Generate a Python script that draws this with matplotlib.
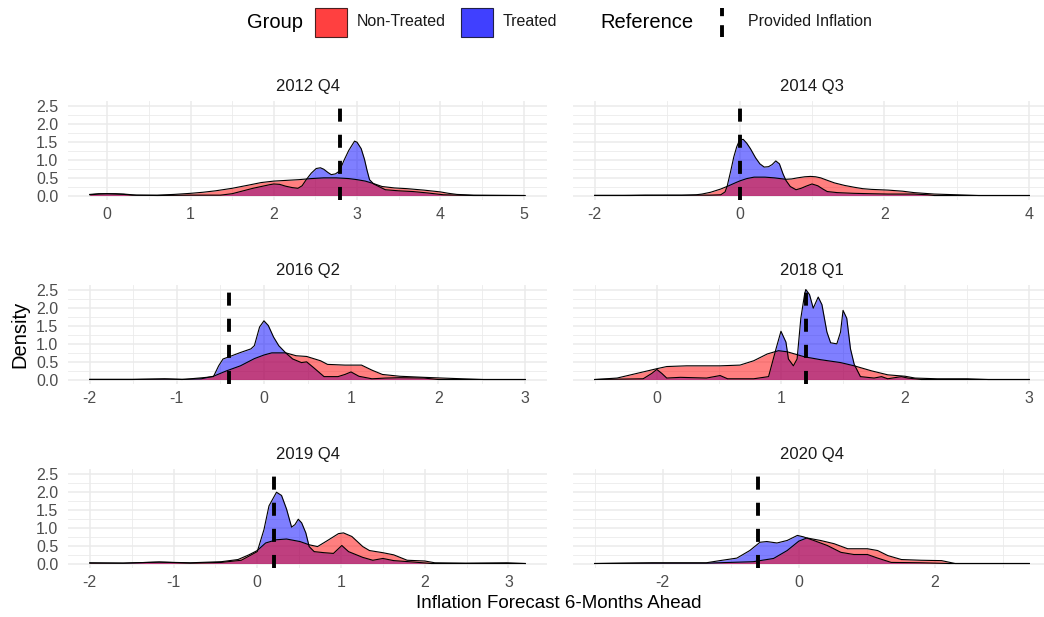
import matplotlib
matplotlib.use("Agg")
import matplotlib.pyplot as plt
from matplotlib.patches import Rectangle
from matplotlib.lines import Line2D
from matplotlib.ticker import MultipleLocator, FuncFormatter

plt.rcParams['font.family'] = ['Liberation Sans', 'DejaVu Sans']
plt.rcParams['axes.unicode_minus'] = False
plt.rcParams['lines.scale_dashes'] = False

quarters = ["2012 Q4", "2014 Q3", "2016 Q2", "2018 Q1", "2019 Q4", "2020 Q4"]
provided_inflation = [2.8, 0.0, -0.4, 1.2, 0.2, -0.6]

# density curves (forecast value, density) for each quarter
nt_2012q4_x = [-0.21, -0.1, 0.0, 0.1, 0.2, 0.35, 0.6, 0.8, 1.0, 1.15, 1.3, 1.5, 1.7, 1.85, 2.0, 2.15, 2.3, 2.45,
               2.6, 2.75, 2.9, 3.0, 3.1, 3.2, 3.3, 3.45, 3.6, 3.8, 4.0, 4.1, 4.2, 4.4, 4.7, 5.02]
nt_2012q4_y = [0.03, 0.05, 0.05, 0.05, 0.04, 0.01, 0.01, 0.03, 0.06, 0.09, 0.13, 0.2, 0.29, 0.36, 0.4, 0.42, 0.44,
               0.47, 0.49, 0.49, 0.47, 0.44, 0.4, 0.33, 0.25, 0.21, 0.19, 0.15, 0.1, 0.06, 0.03, 0.01, 0.005, 0.0]
tr_2012q4_x = [-0.21, -0.1, 0.0, 0.1, 0.2, 0.3, 0.6, 1.0, 1.2, 1.36, 1.5, 1.6, 1.75, 1.85, 1.95, 2.0, 2.07, 2.14,
               2.22, 2.29, 2.34, 2.39, 2.45, 2.51, 2.56, 2.6, 2.65, 2.69, 2.74, 2.79, 2.84, 2.9, 2.97, 3.0, 3.05,
               3.09, 3.12, 3.15, 3.2, 3.34, 3.5, 3.67, 3.85, 4.04, 4.2, 4.4, 5.0]
tr_2012q4_y = [0.02, 0.04, 0.05, 0.04, 0.03, 0.01, 0.0, 0.01, 0.01, 0.01, 0.05, 0.11, 0.2, 0.25, 0.3, 0.32, 0.31,
               0.26, 0.22, 0.2, 0.27, 0.44, 0.62, 0.75, 0.77, 0.73, 0.64, 0.58, 0.6, 0.68, 0.96, 1.25, 1.51, 1.48,
               1.3, 1.0, 0.7, 0.44, 0.32, 0.16, 0.13, 0.11, 0.07, 0.02, 0.01, 0.0, 0.0]

nt_2014q3_x = [-2.0, -1.6, -1.3, -1.0, -0.8, -0.6, -0.52, -0.4, -0.26, -0.15, -0.05, 0.01, 0.1, 0.2, 0.35, 0.48,
               0.56, 0.64, 0.72, 0.8, 0.9, 0.98, 1.05, 1.12, 1.2, 1.31, 1.45, 1.58, 1.7, 1.82, 2.05, 2.25, 2.41,
               2.55, 2.69, 3.0, 3.3, 4.0]
nt_2014q3_y = [0.005, 0.005, 0.01, 0.005, 0.005, 0.02, 0.04, 0.09, 0.18, 0.27, 0.36, 0.41, 0.47, 0.51, 0.51, 0.49,
               0.47, 0.45, 0.46, 0.49, 0.52, 0.53, 0.52, 0.49, 0.43, 0.35, 0.28, 0.23, 0.19, 0.17, 0.15, 0.12, 0.08,
               0.06, 0.04, 0.02, 0.0, 0.0]
tr_2014q3_x = [-2.0, -1.5, -1.0, -0.6, -0.4, -0.26, -0.2, -0.17, -0.12, -0.08, -0.04, 0.0, 0.05, 0.1, 0.15, 0.22,
               0.28, 0.34, 0.4, 0.45, 0.5, 0.55, 0.6, 0.64, 0.7, 0.78, 0.85, 0.92, 1.0, 1.08, 1.15, 1.21, 1.35, 1.58,
               1.8, 2.05, 2.41, 2.6, 2.69, 3.0, 4.0]
tr_2014q3_y = [0.0, 0.0, 0.01, 0.01, 0.01, 0.02, 0.1, 0.27, 0.7, 1.07, 1.35, 1.54, 1.56, 1.45, 1.3, 1.05, 0.88,
               0.79, 0.8, 0.86, 0.96, 0.88, 0.6, 0.42, 0.25, 0.16, 0.2, 0.26, 0.32, 0.27, 0.18, 0.11, 0.08, 0.06,
               0.05, 0.04, 0.04, 0.02, 0.0, 0.0, 0.0]

nt_2016q2_x = [-2.0, -1.5, -1.1, -0.9, -0.72, -0.58, -0.43, -0.27, -0.11, 0.0, 0.09, 0.25, 0.37, 0.49, 0.57, 0.65,
               0.73, 0.93, 1.12, 1.24, 1.36, 1.56, 1.84, 2.05, 2.28, 2.52, 3.0]
nt_2016q2_y = [0.005, 0.005, 0.01, 0.005, 0.02, 0.09, 0.24, 0.38, 0.58, 0.68, 0.74, 0.74, 0.66, 0.64, 0.58, 0.52,
               0.42, 0.4, 0.4, 0.26, 0.14, 0.09, 0.06, 0.04, 0.02, 0.0, 0.0]
tr_2016q2_x = [-2.0, -1.5, -1.14, -0.94, -0.7, -0.58, -0.52, -0.47, -0.39, -0.27, -0.15, -0.11, -0.05, 0.0, 0.05,
               0.11, 0.17, 0.25, 0.33, 0.43, 0.49, 0.57, 0.69, 0.85, 0.93, 1.0, 1.09, 1.24, 1.4, 1.56, 1.84, 2.0, 3.0]
tr_2016q2_y = [0.0, 0.0, 0.02, 0.0, 0.05, 0.08, 0.38, 0.57, 0.64, 0.75, 0.85, 0.94, 1.46, 1.63, 1.5, 1.18, 0.94,
               0.74, 0.57, 0.47, 0.49, 0.33, 0.08, 0.08, 0.14, 0.21, 0.09, 0.02, 0.04, 0.05, 0.04, 0.0, 0.0]

nt_2018q1_x = [-0.5, -0.32, -0.16, 0.0, 0.08, 0.24, 0.51, 0.67, 0.78, 0.89, 0.98, 1.05, 1.19, 1.32, 1.48, 1.59,
               1.73, 1.86, 2.0, 2.08, 2.26, 2.5, 2.67, 3.0]
nt_2018q1_y = [0.0, 0.04, 0.17, 0.3, 0.36, 0.38, 0.38, 0.4, 0.52, 0.71, 0.8, 0.77, 0.63, 0.55, 0.47, 0.38, 0.24,
               0.13, 0.09, 0.04, 0.02, 0.02, 0.0, 0.0]
tr_2018q1_x = [-0.5, -0.11, -0.04, 0.0, 0.04, 0.08, 0.19, 0.4, 0.51, 0.57, 0.78, 0.9, 0.96, 1.0, 1.04, 1.06, 1.1,
               1.13, 1.16, 1.19, 1.2, 1.23, 1.26, 1.3, 1.33, 1.37, 1.4, 1.45, 1.48, 1.5, 1.53, 1.56, 1.59, 1.64,
               1.75, 1.81, 1.86, 1.97, 2.02, 2.13, 3.0]
tr_2018q1_y = [0.0, 0.02, 0.17, 0.28, 0.17, 0.04, 0.06, 0.04, 0.11, 0.02, 0.02, 0.08, 0.85, 1.34, 1.04, 0.57,
               0.38, 0.57, 1.7, 2.36, 2.5, 2.36, 1.98, 2.29, 2.08, 1.32, 1.02, 0.99, 1.32, 1.92, 1.7, 0.85, 0.42,
               0.08, 0.04, 0.08, 0.02, 0.08, 0.04, 0.0, 0.0]

nt_2019q4_x = [-2.0, -1.6, -1.17, -0.8, -0.43, -0.23, -0.1, 0.0, 0.1, 0.23, 0.35, 0.51, 0.62, 0.72, 0.84, 0.97,
               1.03, 1.13, 1.26, 1.34, 1.5, 1.63, 1.79, 2.0, 2.12, 2.49, 2.98, 3.2]
nt_2019q4_y = [0.02, 0.01, 0.04, 0.02, 0.05, 0.11, 0.24, 0.36, 0.57, 0.66, 0.68, 0.61, 0.52, 0.47, 0.64, 0.83,
               0.85, 0.75, 0.47, 0.36, 0.3, 0.24, 0.09, 0.07, 0.02, 0.01, 0.02, 0.0]
tr_2019q4_x = [-2.0, -1.6, -1.17, -0.8, -0.43, -0.19, 0.0, 0.08, 0.14, 0.23, 0.29, 0.35, 0.41, 0.45, 0.49, 0.53,
               0.58, 0.62, 0.68, 0.8, 0.91, 1.01, 1.09, 1.26, 1.38, 1.5, 1.63, 1.87, 2.08, 3.2]
tr_2019q4_y = [0.01, 0.01, 0.04, 0.01, 0.03, 0.09, 0.33, 0.94, 1.6, 1.98, 1.89, 1.51, 1.01, 1.08, 1.23, 1.13, 0.85,
               0.47, 0.33, 0.3, 0.28, 0.5, 0.33, 0.17, 0.09, 0.14, 0.08, 0.04, 0.0, 0.0]

nt_2020q4_x = [-3.0, -2.2, -1.36, -0.67, -0.37, -0.17, 0.0, 0.12, 0.32, 0.52, 0.72, 1.01, 1.16, 1.31, 1.51, 1.8,
               2.1, 2.3, 3.39]
nt_2020q4_y = [0.0, 0.01, 0.01, 0.05, 0.14, 0.36, 0.62, 0.71, 0.64, 0.55, 0.41, 0.41, 0.36, 0.22, 0.11, 0.09,
               0.08, 0.0, 0.0]
tr_2020q4_x = [-3.0, -2.15, -1.36, -1.16, -0.91, -0.72, -0.57, -0.47, -0.32, -0.17, -0.02, 0.07, 0.22, 0.42, 0.62,
               0.81, 1.01, 1.16, 1.36, 1.8, 2.2, 3.39]
tr_2020q4_y = [0.0, 0.02, 0.02, 0.08, 0.15, 0.36, 0.59, 0.61, 0.57, 0.64, 0.78, 0.74, 0.64, 0.5, 0.31, 0.25, 0.25,
               0.15, 0.03, 0.02, 0.0, 0.0]

non_treated = [(nt_2012q4_x, nt_2012q4_y), (nt_2014q3_x, nt_2014q3_y), (nt_2016q2_x, nt_2016q2_y),
               (nt_2018q1_x, nt_2018q1_y), (nt_2019q4_x, nt_2019q4_y), (nt_2020q4_x, nt_2020q4_y)]
treated = [(tr_2012q4_x, tr_2012q4_y), (tr_2014q3_x, tr_2014q3_y), (tr_2016q2_x, tr_2016q2_y),
           (tr_2018q1_x, tr_2018q1_y), (tr_2019q4_x, tr_2019q4_y), (tr_2020q4_x, tr_2020q4_y)]
x_steps = [1, 2, 1, 1, 1, 2]

W, H = 1044, 617
fig = plt.figure(figsize=(W / 100, H / 100), dpi=100)
fig.patch.set_facecolor("white")

cols = [(68, 547), (573, 1051)]
rows = [(101, 200), (285, 384), (469, 568)]
grid_col = "#EBEBEB"
ref_dash = (9.4, 9.4)


def panel(x0, x1, y0, y1):
    return fig.add_axes([x0 / W, 1 - y1 / H, (x1 - x0) / W, (y1 - y0) / H])


for i, q in enumerate(quarters):
    r, c = divmod(i, 2)
    ax = panel(cols[c][0], cols[c][1], rows[r][0], rows[r][1])
    ax.set_facecolor("white")
    for s in ax.spines.values():
        s.set_visible(False)

    # treated first, non-treated drawn over it
    for (xs, ys), col in ((treated[i], "blue"), (non_treated[i], "red")):
        ax.fill_between(xs, 0, ys, color=col, alpha=0.5, lw=0, zorder=2)
        ax.plot(xs, ys, color="black", lw=0.8, zorder=3)

    ax.axvline(provided_inflation[i], color="black", lw=2.8, dashes=ref_dash, zorder=4)

    ax.margins(x=0.05)
    ax.set_ylim(-0.125, 2.625)
    ax.xaxis.set_major_locator(MultipleLocator(x_steps[i]))
    ax.xaxis.set_minor_locator(MultipleLocator(x_steps[i] / 2))
    ax.yaxis.set_major_locator(MultipleLocator(0.5))
    ax.yaxis.set_minor_locator(MultipleLocator(0.25))
    ax.grid(which="major", color=grid_col, lw=1.1, zorder=0)
    ax.grid(which="minor", color=grid_col, lw=0.6, zorder=0)
    ax.set_axisbelow(True)
    ax.tick_params(which="both", length=0)
    ax.tick_params(axis="x", labelsize=11.5, labelcolor="#4D4D4D", pad=5)
    ax.tick_params(axis="y", labelsize=11.5, labelcolor="#4D4D4D", pad=7)
    ax.xaxis.set_major_formatter(FuncFormatter(lambda v, p: f"{v:g}"))
    if c == 0:
        ax.yaxis.set_major_formatter(FuncFormatter(lambda v, p: f"{v:.1f}"))
    else:
        ax.set_yticklabels([])

    fig.text((cols[c][0] + cols[c][1]) / 2 / W, 1 - (rows[r][0] - 14) / H, q,
             ha="center", va="center", fontsize=12, color="#1A1A1A")

fig.text(20 / W, 1 - 334 / H, "Density", rotation=90, ha="center", va="center", fontsize=14.5)
fig.text(559 / W, 1 - 604 / H, "Inflation Forecast 6-Months Ahead", ha="center", va="center", fontsize=13.5)

# legend along the top
ly = 1 - 22 / H
fig.text(247 / W, ly, "Group", ha="left", va="center", fontsize=14.5)
fig.patches.append(Rectangle((315 / W, 1 - 37 / H), 32 / W, 29 / H, transform=fig.transFigure,
                             facecolor="#FF4040", edgecolor="#4A2020", lw=0.8))
fig.text(357 / W, ly, "Non-Treated", ha="left", va="center", fontsize=11.5, color="#1A1A1A")
fig.patches.append(Rectangle((461 / W, 1 - 37 / H), 32 / W, 29 / H, transform=fig.transFigure,
                             facecolor="#4040FF", edgecolor="#20204A", lw=0.8))
fig.text(503 / W, ly, "Treated", ha="left", va="center", fontsize=11.5, color="#1A1A1A")
fig.text(600 / W, ly, "Reference", ha="left", va="center", fontsize=14.5)
fig.lines.append(Line2D([722 / W, 722 / W], [1 - 37 / H, 1 - 8 / H], transform=fig.transFigure,
                        color="black", lw=2.8, dashes=(8.5, 6.5)))
fig.text(748 / W, ly, "Provided Inflation", ha="left", va="center", fontsize=11.5, color="#1A1A1A")

fig.savefig("out.png", dpi=100)
